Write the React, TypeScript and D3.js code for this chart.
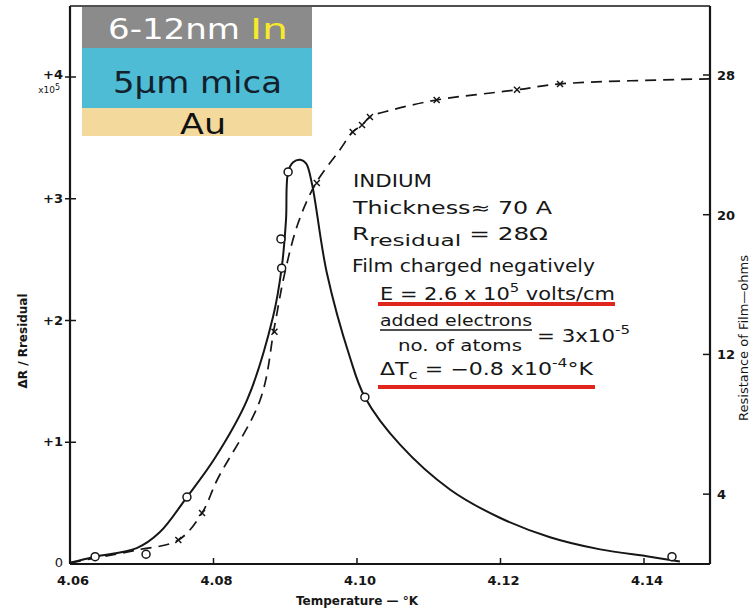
import React from 'react';
import * as d3 from 'd3';

// Temperature axis (°K)
const tempTicks = [4.06, 4.08, 4.1, 4.12, 4.14];
const tempTickLabels = ['4.06', '4.08', '4.10', '4.12', '4.14'];
// Left axis: ΔR / Rresidual (×10⁵)
const ratioTicks = [1, 2, 3, 4];
const ratioTickLabels = ['+1', '+2', '+3', '+4'];
// Right axis: film resistance (ohms)
const ohmTicks = [4, 12, 20, 28];
const ohmTickLabels = ['4', '12', '20', '28'];

// Solid curve: ΔR / Rresidual versus temperature
const ratioCurveT = [4.06, 4.0635, 4.0693, 4.0725, 4.0763, 4.0802, 4.0847, 4.0883, 4.0895, 4.0901, 4.0904, 4.0911, 4.0921, 4.0929, 4.0937, 4.0958, 4.099, 4.1011, 4.106, 4.113, 4.1199, 4.1269, 4.1339, 4.1408, 4.145];
const ratioCurveV = [0.01, 0.06, 0.13, 0.26, 0.55, 0.87, 1.35, 2.03, 2.43, 2.82, 3.22, 3.3, 3.32, 3.29, 3.13, 2.39, 1.7, 1.37, 0.98, 0.61, 0.38, 0.22, 0.12, 0.06, 0.02];
// Measured points (circles)
const ratioPointT = [4.0635, 4.0706, 4.0763, 4.0895, 4.0894, 4.0904, 4.1011, 4.1439];
const ratioPointV = [0.06, 0.08, 0.55, 2.43, 2.67, 3.22, 1.37, 0.06];

// Dashed curve: resistance of film versus temperature
const ohmCurveT = [4.06, 4.0635, 4.0693, 4.0751, 4.0784, 4.0805, 4.0865, 4.0885, 4.0899, 4.0918, 4.0943, 4.0976, 4.0994, 4.1007, 4.1018, 4.1049, 4.1111, 4.1223, 4.1283, 4.1492];
const ohmCurveR = [0.06, 0.34, 0.8, 1.37, 2.92, 4.81, 9.39, 13.6, 16.6, 19.53, 21.82, 23.71, 24.74, 25.14, 25.6, 26.0, 26.57, 27.15, 27.49, 27.78];
// Measured points (crosses)
const ohmPointT = [4.0751, 4.0784, 4.0885, 4.0944, 4.0994, 4.1007, 4.1018, 4.1111, 4.1223, 4.1283];
const ohmPointR = [1.37, 2.92, 13.3, 21.82, 24.74, 25.14, 25.6, 26.57, 27.15, 27.49];

const W = 755;
const H = 611;
const left = 70;
const right = 710;
const top = 6;
const bottom = 564;

const labelFont = 'DejaVu Sans, sans-serif';
const ink = '#161616';

export default function App() {
  const x = d3.scaleLinear().domain([4.06, 4.1492]).range([left, right]);
  const yRatio = d3.scaleLinear().domain([0, 4]).range([bottom, 77]);
  const yOhm = d3.scaleLinear().domain([0, 28]).range([bottom, 75]);

  const ratioLine = d3
    .line<number>()
    .x((_, i) => x(ratioCurveT[i]))
    .y((v) => yRatio(v))
    .curve(d3.curveCatmullRom.alpha(0.5))(ratioCurveV) as string;

  const ohmLine = d3
    .line<number>()
    .x((_, i) => x(ohmCurveT[i]))
    .y((r) => yOhm(r))
    .curve(d3.curveCatmullRom.alpha(0.5))(ohmCurveR) as string;

  return (
    <svg
      width={W}
      height={H}
      viewBox={`0 0 ${W} ${H}`}
      style={{ position: 'absolute', left: 0, top: 0, background: '#fff' }}
    >
      <rect x={0} y={0} width={W} height={H} fill="#fff" />

      {/* frame */}
      <line x1={left} y1={top} x2={right} y2={top} stroke={ink} strokeWidth={1.6} />
      <line x1={left} y1={top} x2={left} y2={bottom} stroke={ink} strokeWidth={2.2} />
      <line x1={right} y1={top} x2={right} y2={bottom} stroke={ink} strokeWidth={2.2} />
      <line x1={left} y1={bottom} x2={right} y2={bottom} stroke={ink} strokeWidth={2.2} />

      {/* bottom axis */}
      {tempTicks.map((t, i) => (
        <g key={`tt${i}`}>
          {i > 0 && <line x1={x(t)} y1={bottom} x2={x(t)} y2={bottom - 6} stroke={ink} strokeWidth={1.5} />}
          <text
            x={x(t) + 3}
            y={585}
            textAnchor="middle"
            fontFamily={labelFont}
            fontWeight="bold"
            fontSize={13}
            fill={ink}
          >
            {tempTickLabels[i]}
          </text>
        </g>
      ))}
      <text x={357} y={605} textAnchor="middle" fontFamily={labelFont} fontWeight="bold" fontSize={12} fill={ink}>
        Temperature — °K
      </text>

      {/* left axis */}
      {ratioTicks.map((v, i) => (
        <g key={`rt${i}`}>
          <line x1={left - 5} y1={yRatio(v)} x2={left + 6} y2={yRatio(v)} stroke={ink} strokeWidth={1.5} />
          <text
            x={left - 7}
            y={yRatio(v) + (i === 3 ? 2 : 4)}
            textAnchor="end"
            fontFamily={labelFont}
            fontWeight="bold"
            fontSize={13}
            fill={ink}
          >
            {ratioTickLabels[i]}
          </text>
        </g>
      ))}
      <text x={left - 10} y={yRatio(4) + 16} textAnchor="end" fontFamily={labelFont} fontSize={9} fill={ink}>
        x10<tspan dy={-3} fontSize={8}>5</tspan>
      </text>
      <text x={left - 7} y={bottom + 3} textAnchor="end" fontFamily={labelFont} fontSize={13} fill={ink}>
        0
      </text>
      <text
        transform={`translate(27, 341) rotate(-90)`}
        textAnchor="middle"
        fontFamily={labelFont}
        fontWeight="bold"
        fontSize={12}
        fill={ink}
      >
        ΔR / Rresidual
      </text>

      {/* right axis */}
      {ohmTicks.map((r, i) => (
        <g key={`ot${i}`}>
          <line x1={right - 7} y1={yOhm(r)} x2={right + 1} y2={yOhm(r)} stroke={ink} strokeWidth={1.5} />
          <text
            x={right + 7}
            y={yOhm(r) + 5}
            fontFamily={labelFont}
            fontWeight="bold"
            fontSize={13}
            fill={ink}
          >
            {ohmTickLabels[i]}
          </text>
        </g>
      ))}
      <text
        transform={`translate(748, 338) rotate(-90)`}
        textAnchor="middle"
        fontFamily={labelFont}
        fontSize={13}
        fill={ink}
      >
        Resistance of Film—ohms
      </text>

      {/* curves */}
      <path d={ohmLine} fill="none" stroke={ink} strokeWidth={1.7} strokeDasharray="11 7" />
      <path d={ratioLine} fill="none" stroke={ink} strokeWidth={2} />

      {ohmPointT.map((t, i) => {
        const cx = x(t);
        const cy = yOhm(ohmPointR[i]);
        const s = 3;
        return (
          <path
            key={`op${i}`}
            d={`M${cx - s},${cy - s}L${cx + s},${cy + s}M${cx - s},${cy + s}L${cx + s},${cy - s}`}
            stroke={ink}
            strokeWidth={1.5}
          />
        );
      })}
      {ratioPointT.map((t, i) => (
        <circle
          key={`rp${i}`}
          cx={x(t)}
          cy={yRatio(ratioPointV[i])}
          r={4}
          fill="#fff"
          stroke={ink}
          strokeWidth={1.5}
        />
      ))}

      {/* annotation */}
      <g fontFamily={labelFont} fill={ink} fontSize={17}>
        <text x={353} y={187} textLength={79} lengthAdjust="spacingAndGlyphs">INDIUM</text>
        <text x={353} y={214} textLength={199} lengthAdjust="spacingAndGlyphs">Thickness≈ 70 A</text>
        <text x={352} y={240} textLength={196} lengthAdjust="spacingAndGlyphs">
          R<tspan dy={6} fontSize={16}>residual</tspan>
          <tspan dy={-6}> = 28Ω</tspan>
        </text>
        <text x={352} y={272} textLength={243} lengthAdjust="spacingAndGlyphs">Film charged negatively</text>
        <text x={380} y={300} textLength={235} lengthAdjust="spacingAndGlyphs">
          E = 2.6 x 10<tspan dy={-8} fontSize={12}>5</tspan>
          <tspan dy={8}> volts/cm</tspan>
        </text>
        <text x={380} y={326} fontSize={15} textLength={152} lengthAdjust="spacingAndGlyphs">added electrons</text>
        <line x1={380} y1={330} x2={532} y2={330} stroke={ink} strokeWidth={1.6} />
        <text x={398} y={351} fontSize={15} textLength={124} lengthAdjust="spacingAndGlyphs">no. of atoms</text>
        <text x={537} y={342} textLength={93} lengthAdjust="spacingAndGlyphs">
          = 3x10<tspan dy={-8} fontSize={12}>-5</tspan>
        </text>
        <text x={380} y={375} textLength={213} lengthAdjust="spacingAndGlyphs">
          ΔT<tspan dy={4} fontSize={13}>c</tspan>
          <tspan dy={-4}> = −0.8 x10</tspan>
          <tspan dy={-8} fontSize={12}>-4</tspan>
          <tspan dy={8}>°K</tspan>
        </text>
      </g>
      <line x1={378} y1={304} x2={615} y2={304} stroke="#e0261c" strokeWidth={4} />
      <line x1={378} y1={387} x2={595} y2={387} stroke="#e0261c" strokeWidth={4} />

      {/* layer stack inset */}
      <rect x={82} y={7} width={230} height={41} fill="#8b8b8b" />
      <rect x={82} y={48} width={230} height={60} fill="#4ebcd5" />
      <rect x={82} y={108} width={230} height={28} fill="#f3d99b" />
      <g fontFamily={labelFont} fontSize={28}>
        <text x={108} y={39} fill="#fff" textLength={132} lengthAdjust="spacingAndGlyphs">6-12nm</text>
        <text x={250} y={39} fill="#f7ea2a" textLength={38} lengthAdjust="spacingAndGlyphs">In</text>
        <text x={113} y={93} fill="#14202c" fontSize={30} textLength={169} lengthAdjust="spacingAndGlyphs">5µm mica</text>
        <text x={180} y={134} fill="#111" fontSize={29} textLength={46} lengthAdjust="spacingAndGlyphs">Au</text>
      </g>
    </svg>
  );
}
